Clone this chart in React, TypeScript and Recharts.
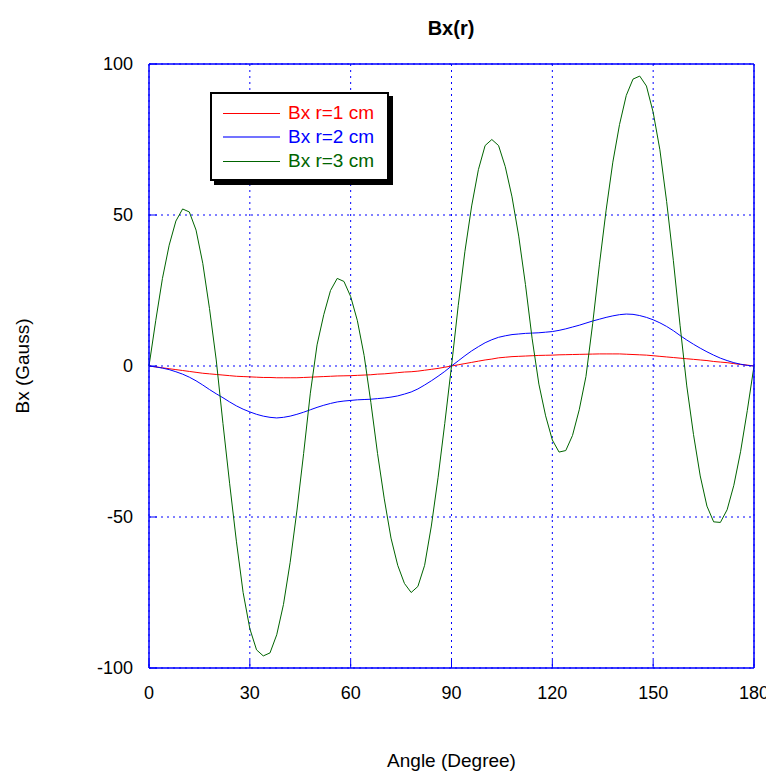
import React from 'react';
import { LineChart, Line, XAxis, YAxis, CartesianGrid } from 'recharts';

// angle samples in degrees
const ANGLES = [
  0, 2, 4, 6, 8, 10, 12, 14, 16, 18, 20, 22, 24, 26, 28, 30, 32, 34, 36, 38,
  40, 42, 44, 46, 48, 50, 52, 54, 56, 58, 60, 62, 64, 66, 68, 70, 72, 74, 76, 78,
  80, 82, 84, 86, 88, 90, 92, 94, 96, 98, 100, 102, 104, 106, 108, 110, 112, 114, 116, 118,
  120, 122, 124, 126, 128, 130, 132, 134, 136, 138, 140, 142, 144, 146, 148, 150, 152, 154, 156, 158,
  160, 162, 164, 166, 168, 170, 172, 174, 176, 178, 180,
];

const BX_R1 = [
  0, -0.3, -0.6, -0.9, -1.2, -1.5, -1.8, -2.1, -2.4, -2.6, -2.8, -3.0, -3.2, -3.4, -3.5, -3.6, -3.7, -3.8, -3.8, -3.9,
  -3.9, -3.9, -3.9, -3.8, -3.7, -3.6, -3.5, -3.4, -3.3, -3.25, -3.2, -3.1, -3.0, -2.9, -2.7, -2.6, -2.4, -2.2, -2.0, -1.9,
  -1.7, -1.4, -1.1, -0.8, -0.4, 0, 0.4, 0.8, 1.2, 1.6, 2.0, 2.3, 2.7, 2.9, 3.1, 3.2, 3.3, 3.4, 3.5, 3.55,
  3.6, 3.7, 3.75, 3.8, 3.85, 3.9, 3.95, 4.0, 4.0, 4.0, 4.0, 3.9, 3.8, 3.7, 3.6, 3.4, 3.2, 3.0, 2.8, 2.6,
  2.4, 2.2, 2.0, 1.8, 1.5, 1.3, 1.1, 0.8, 0.5, 0.3, 0,
];

const BX_R2 = [
  0, -0.3, -0.7, -1.2, -1.9, -2.7, -3.7, -4.9, -6.3, -7.8, -9.2, -10.5, -11.9, -13.2, -14.3, -15.2, -16.0, -16.6, -17.0, -17.2,
  -17.0, -16.6, -16.0, -15.3, -14.5, -13.7, -13.0, -12.4, -11.9, -11.6, -11.4, -11.2, -11.1, -11.0, -10.8, -10.6, -10.3, -9.9, -9.3, -8.6,
  -7.6, -6.3, -4.9, -3.4, -1.8, 0, 1.7, 3.4, 5.0, 6.4, 7.7, 8.7, 9.5, 10.0, 10.4, 10.6, 10.8, 10.9, 11.0, 11.2,
  11.4, 11.8, 12.3, 12.9, 13.5, 14.2, 14.9, 15.5, 16.1, 16.6, 17.0, 17.2, 17.1, 16.7, 16.1, 15.3, 14.3, 13.1, 11.7, 10.1,
  8.6, 7.2, 5.9, 4.7, 3.6, 2.6, 1.8, 1.1, 0.6, 0.2, 0,
];

const BX_R3 = [
  0, 15, 29, 40, 48, 52, 51, 45, 34, 19, 2, -19, -39, -58, -75, -87, -94, -96, -95, -89,
  -79, -65, -48, -29, -9, 7, 17, 25, 29, 28, 23, 15, 3.5, -12, -29, -44, -57, -66, -72, -75,
  -73, -66, -53, -37, -19, 0, 20, 38, 53, 65, 73, 75, 73, 66, 56, 43, 27, 9, -6, -16.5,
  -24.5, -28.5, -28, -23, -14.5, -3.5, 14, 33.5, 51.6, 67.5, 80, 89.6, 95, 96, 92.7, 84, 71.6, 54.5, 35, 13.5,
  -6.6, -22.7, -36.4, -46.4, -51.6, -51.8, -47.6, -39.5, -28.4, -14.8, 0,
];

const X_TICKS = [0, 30, 60, 90, 120, 150, 180];
const Y_TICKS = [-100, -50, 0, 50, 100];

const SERIES = [
  { key: 'r1', name: 'Bx r=1 cm', color: '#ff0000' },
  { key: 'r2', name: 'Bx r=2 cm', color: '#0000ff' },
  { key: 'r3', name: 'Bx r=3 cm', color: '#006400' },
];

const data = ANGLES.map((angle, i) => ({
  angle,
  r1: BX_R1[i],
  r2: BX_R2[i],
  r3: BX_R3[i],
}));

const FONT = '"Liberation Sans", Arial, sans-serif';
const FRAME = '#0000ff';

const LegendBox = () => (
  <div
    style={{
      position: 'absolute',
      left: 202,
      top: 84,
      width: 175,
      border: '2px solid #000',
      background: '#fff',
      boxShadow: '4px 4px 0 #000',
      padding: '7px 0 6px 0',
      fontFamily: FONT,
      fontSize: 19,
    }}
  >
    {SERIES.map((s) => (
      <div key={s.key} style={{ display: 'flex', alignItems: 'center', height: 24 }}>
        <div
          style={{
            marginLeft: 11,
            width: 57,
            height: s.key === 'r2' ? 2 : 1,
            background: s.color,
            opacity: s.key === 'r2' ? 0.55 : 1,
          }}
        />
        <span style={{ marginLeft: 8, color: s.color, lineHeight: '24px' }}>{s.name}</span>
      </div>
    ))}
  </div>
);

const App = () => {
  return (
    <div style={{ position: 'relative', width: 766, height: 765 }}>
      <div
        style={{
          position: 'absolute',
          left: 343,
          top: 8,
          width: 200,
          textAlign: 'center',
          fontFamily: FONT,
          fontWeight: 'bold',
          fontSize: 20,
          lineHeight: '24px',
        }}
      >
        Bx(r)
      </div>
      <LineChart width={766} height={765} data={data} margin={{ top: 55, right: 19, left: 0, bottom: 0 }}>
        <CartesianGrid stroke={FRAME} strokeDasharray="2 4" />
        <XAxis
          dataKey="angle"
          type="number"
          domain={[0, 180]}
          ticks={X_TICKS}
          height={105}
          axisLine={{ stroke: FRAME, strokeWidth: 1.5 }}
          tickLine={{ stroke: FRAME }}
          tickSize={-8}
          tickMargin={26}
          tick={{ fill: '#000', fontSize: 18, fontFamily: FONT }}
          label={(props: any) => {
            const vb = props.viewBox;
            return (
              <text
                x={vb.x + vb.width / 2}
                y={vb.y + 92}
                textAnchor="middle"
                dominantBaseline="central"
                fontSize={19}
                fontFamily={FONT}
                fill="#000"
              >
                Angle (Degree)
              </text>
            );
          }}
        />
        <XAxis
          xAxisId="top"
          dataKey="angle"
          type="number"
          orientation="top"
          domain={[0, 180]}
          ticks={X_TICKS}
          height={1}
          axisLine={{ stroke: FRAME, strokeWidth: 1.5 }}
          tickLine={{ stroke: FRAME }}
          tickSize={-8}
          tick={false}
        />
        <YAxis
          type="number"
          domain={[-100, 100]}
          ticks={Y_TICKS}
          width={141}
          axisLine={{ stroke: FRAME, strokeWidth: 1.5 }}
          tickLine={{ stroke: FRAME }}
          tickSize={-8}
          tickMargin={24}
          tick={{ fill: '#000', fontSize: 18, fontFamily: FONT }}
          label={(props: any) => {
            const vb = props.viewBox;
            const cx = vb.x + 14;
            const cy = vb.y + vb.height / 2;
            return (
              <text
                x={cx}
                y={cy}
                transform={`rotate(-90 ${cx} ${cy})`}
                textAnchor="middle"
                dominantBaseline="central"
                fontSize={19}
                fontFamily={FONT}
                fill="#000"
              >
                Bx (Gauss)
              </text>
            );
          }}
        />
        <YAxis
          yAxisId="right"
          type="number"
          orientation="right"
          domain={[-100, 100]}
          ticks={Y_TICKS}
          width={1}
          axisLine={{ stroke: FRAME, strokeWidth: 1.5 }}
          tickLine={{ stroke: FRAME }}
          tickSize={-8}
          tick={false}
        />
        {SERIES.map((s) => (
          <Line
            key={s.key}
            type="linear"
            dataKey={s.key}
            name={s.name}
            stroke={s.color}
            strokeWidth={1}
            dot={false}
            activeDot={false}
            isAnimationActive={false}
          />
        ))}
      </LineChart>
      <LegendBox />
    </div>
  );
};

export default App;
